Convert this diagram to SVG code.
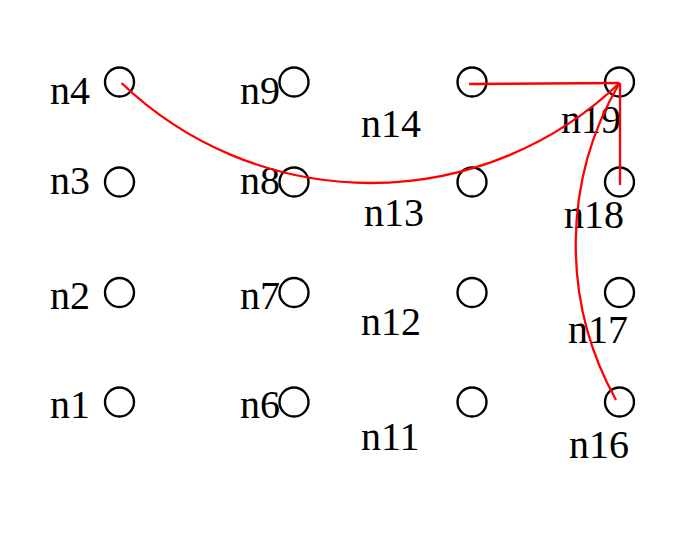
<svg xmlns="http://www.w3.org/2000/svg" width="685" height="533" viewBox="0 0 685 533">
<style>
.node circle{fill:none;stroke:#000;stroke-width:2.4}
.node text{font-family:"Liberation Serif","DejaVu Serif",serif;font-size:40px;fill:#000}
.edges path{fill:none;stroke:#f00;stroke-width:2.3}
</style>
<rect width="685" height="533" fill="#fff"/>
<g id="n1" class="node"><circle cx="119.5" cy="402" r="14.5"/><text x="50" y="418">n1</text></g>
<g id="n2" class="node"><circle cx="119.5" cy="292.5" r="14.5"/><text x="50" y="308.5">n2</text></g>
<g id="n3" class="node"><circle cx="119.5" cy="182" r="14.5"/><text x="50" y="193.5">n3</text></g>
<g id="n4" class="node"><circle cx="119.5" cy="82" r="14.5"/><text x="50" y="103.5">n4</text></g>
<g id="n6" class="node"><circle cx="294" cy="402" r="14.5"/><text x="240" y="418">n6</text></g>
<g id="n7" class="node"><circle cx="294" cy="292.5" r="14.5"/><text x="240" y="308.5">n7</text></g>
<g id="n8" class="node"><circle cx="294" cy="182" r="14.5"/><text x="240" y="193.5">n8</text></g>
<g id="n9" class="node"><circle cx="294" cy="82" r="14.5"/><text x="240" y="103.5">n9</text></g>
<g id="n11" class="node"><circle cx="472" cy="402" r="14.5"/><text x="361" y="450">n11</text></g>
<g id="n12" class="node"><circle cx="472" cy="292.5" r="14.5"/><text x="361" y="335">n12</text></g>
<g id="n13" class="node"><circle cx="472" cy="182" r="14.5"/><text x="364" y="225.5">n13</text></g>
<g id="n14" class="node"><circle cx="472" cy="82" r="14.5"/><text x="361" y="136.5">n14</text></g>
<g id="n16" class="node"><circle cx="619.5" cy="402" r="14.5"/><text x="569" y="458">n16</text></g>
<g id="n17" class="node"><circle cx="619.5" cy="292.5" r="14.5"/><text x="568" y="343">n17</text></g>
<g id="n18" class="node"><circle cx="619.5" cy="182" r="14.5"/><text x="564" y="228">n18</text></g>
<g id="n19" class="node"><circle cx="619.5" cy="82" r="14.5"/><text x="561" y="133">n19</text></g>
<g id="edges" class="edges">
<path d="M121.5,83 A360,360 0 0 0 619.5,83"/>
<path d="M469,84 L619.5,83"/>
<path d="M620,185 L620,83"/>
<path d="M616,400 A320,320 0 0 1 619.5,83"/>
</g>
</svg>
